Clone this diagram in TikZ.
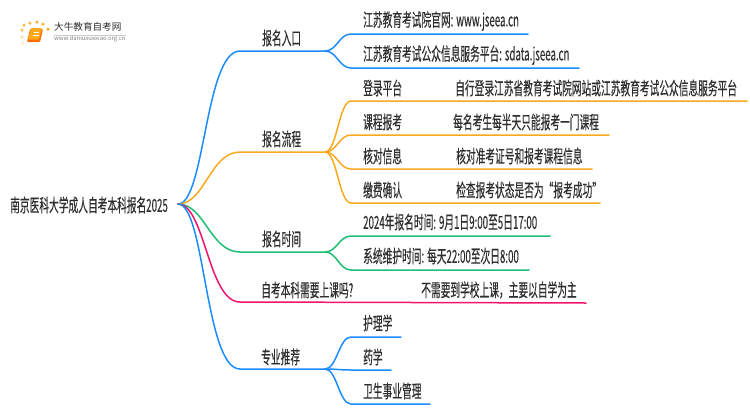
\documentclass[tikz,border=0pt]{standalone}
\usepackage{fontspec}
\setmainfont[FakeStretch=0.54,FakeBold=0.25]{Noto Sans CJK SC}
\newfontfamily\logofont{Noto Sans CJK SC}
\usepackage{tikz}
\definecolor{bluea}{HTML}{1A8CFF}
\definecolor{amber}{HTML}{F9A91E}
\definecolor{greena}{HTML}{1CBF73}
\definecolor{pinka}{HTML}{F0146E}
\definecolor{ink}{HTML}{2E2E2E}
\tikzset{
  label/.style={anchor=west, inner sep=0pt, text=ink, font=\fontsize{18}{19}\selectfont},
  link/.style={line width=1.5pt, line cap=round},
  dot/.style={circle, fill=#1, inner sep=0pt, minimum size=3.5pt}
}
\begin{document}
\begin{tikzpicture}[x=1pt,y=-1pt]
        \useasboundingbox (0,0) rectangle (750,410);
        % logo
        \node[dot=amber!70] (sa) at (22,30) { };
        \node[dot=amber!80] (sb) at (24,25) { };
        \node[dot=amber!80] (sc) at (30,23) { };
        \node[dot=amber!90] (sd) at (37,22) { };
        \node[dot=amber!90] (se) at (43,24) { };
        \node[dot=amber] (sf) at (48,29) { };
        \node[dot=amber!40] (sg) at (22,37) { };
        \node[dot=amber!25] (sh) at (23,43) { };
        \fill[rounded corners=1pt, orange!85!red] (30,29) -- (43,29) -- (40,42) -- (27,42) -- cycle;
        \fill[rounded corners=1pt, amber] (31,28) -- (42,28) -- (39,39.5) -- (28,39.5) -- cycle;
        \draw[white, line width=.6pt] (33.5,32) -- (39,32) (33,35) -- (38.5,35);
        \node[anchor=west, inner sep=0pt, text=ink, font=\logofont\fontsize{9.6}{10}\selectfont] (logoname) at (54,27) {大牛教育自考网};
        \node[anchor=west, inner sep=0pt, text=gray, font=\logofont\fontsize{5.9}{6}\selectfont] (logourl) at (54,38.5) {www.daniuxuexiao.org.cn};
        \draw[gray!40, line width=.5pt] (logourl.north west) -- (logourl.north east);
        % root
        \node[label] (root) at (10,205) {南京医科大学成人自考本科报名2025};
        \coordinate (hub) at (178,204);
        % first level
        \node[label] (entry) at (262,38) {报名入口};
        \node[label] (flow) at (262,139) {报名流程};
        \node[label] (period) at (262,239) {报名时间};
        \node[label] (needs) at (261,290) {自考本科需要上课吗?};
        \node[label] (major) at (261,357) {专业推荐};
        \coordinate (entrya) at (240,51);
        \coordinate (entryb) at (325,51);
        \coordinate (flowa) at (240,152);
        \coordinate (flowb) at (325,152);
        \coordinate (perioda) at (240,252);
        \coordinate (periodb) at (325,252);
        \coordinate (needsa) at (240,302);
        \coordinate (needsb) at (586,303);
        \coordinate (majora) at (240,369);
        \coordinate (majorb) at (325,369);
        % second level
        \node[label] (ea) at (363,21) {江苏教育考试院官网: www.jseea.cn};
        \node[label] (eb) at (363,55) {江苏教育考试公众信息服务平台: sdata.jseea.cn};
        \node[label] (fa) at (363,88) {登录平台};
        \node[label] (fb) at (363,122) {课程报考};
        \node[label] (fc) at (363,156) {核对信息};
        \node[label] (fd) at (363,190) {缴费确认};
        \node[label] (pa) at (363,222) {2024年报名时间: 9月1日9:00至5日17:00};
        \node[label] (pb) at (363,256) {系统维护时间: 每天22:00至次日8:00};
        \node[label] (ma) at (363,323) {护理学};
        \node[label] (mb) at (363,357) {药学};
        \node[label] (mc) at (363,391) {卫生事业管理};
        % third level
        \node[label] (fat) at (455,88) {自行登录江苏省教育考试院网站或江苏教育考试公众信息服务平台};
        \node[label] (fbt) at (453,122) {每名考生每半天只能报考一门课程};
        \node[label] (fct) at (456,156) {核对准考证号和报考课程信息};
        \node[label] (fdt) at (456,190) {检查报考状态是否为“报考成功”};
        \node[label] (nt) at (421,290) {不需要到学校上课，主要以自学为主};
        % line ends
        \coordinate (eas) at (351,34);
        \coordinate (eae) at (528,34);
        \coordinate (ebs) at (351,68);
        \coordinate (ebe) at (579,68);
        \coordinate (fas) at (351,101);
        \coordinate (fae) at (747,101);
        \coordinate (fbs) at (351,135);
        \coordinate (fbe) at (609,135);
        \coordinate (fcs) at (351,169);
        \coordinate (fce) at (592,169);
        \coordinate (fds) at (351,203);
        \coordinate (fde) at (600,203);
        \coordinate (pas) at (351,236);
        \coordinate (pae) at (550,236);
        \coordinate (pbs) at (351,270);
        \coordinate (pbe) at (529,270);
        \coordinate (mas) at (351,337);
        \coordinate (mae) at (401,337);
        \coordinate (mbs) at (351,370);
        \coordinate (mbe) at (391,370);
        \coordinate (mcs) at (351,404);
        \coordinate (mce) at (430,404);
        % connectors
        \draw[link, bluea] (hub) .. controls +(27,0) and +(-35,0) .. (entrya) -- (entryb);
        \draw[link, amber] (hub) .. controls +(27,0) and +(-30,0) .. (flowa) -- (flowb);
        \draw[link, greena] (hub) .. controls +(27,0) and +(-30,0) .. (perioda) -- (periodb);
        \draw[link, pinka] (hub) .. controls +(27,0) and +(-32,0) .. (needsa) -- (needsb);
        \draw[link, bluea] (hub) .. controls +(27,0) and +(-35,0) .. (majora) -- (majorb);
        \draw[link, bluea] (entryb) .. controls +(12,0) and +(-12,0) .. (eas) -- (eae);
        \draw[link, bluea] (entryb) .. controls +(12,0) and +(-12,0) .. (ebs) -- (ebe);
        \draw[link, amber] (flowb) .. controls +(12,0) and +(-12,0) .. (fas) -- (fae);
        \draw[link, amber] (flowb) .. controls +(12,0) and +(-12,0) .. (fbs) -- (fbe);
        \draw[link, amber] (flowb) .. controls +(12,0) and +(-12,0) .. (fcs) -- (fce);
        \draw[link, amber] (flowb) .. controls +(12,0) and +(-12,0) .. (fds) -- (fde);
        \draw[link, greena] (periodb) .. controls +(12,0) and +(-12,0) .. (pas) -- (pae);
        \draw[link, greena] (periodb) .. controls +(12,0) and +(-12,0) .. (pbs) -- (pbe);
        \draw[link, bluea] (majorb) .. controls +(12,0) and +(-12,0) .. (mas) -- (mae);
        \draw[link, bluea] (majorb) .. controls +(12,0) and +(-12,0) .. (mbs) -- (mbe);
        \draw[link, bluea] (majorb) .. controls +(12,0) and +(-12,0) .. (mcs) -- (mce);
    \end{tikzpicture}
\end{document}
